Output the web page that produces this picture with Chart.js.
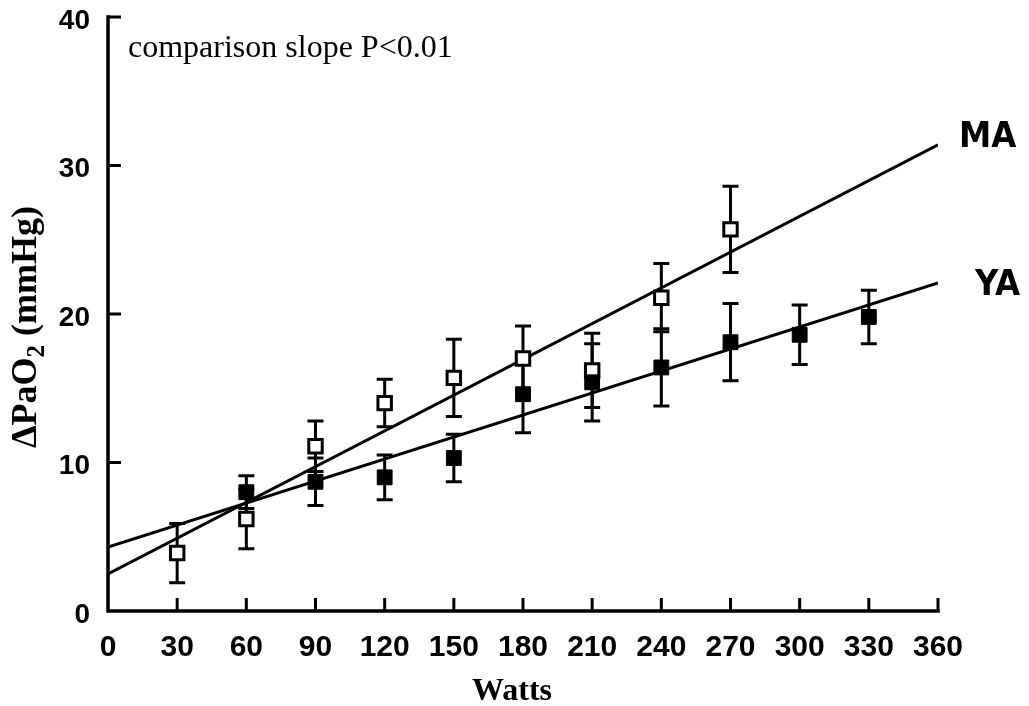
<!DOCTYPE html>
<html>
<head>
<meta charset="utf-8">
<script src="https://cdn.jsdelivr.net/npm/chart.js@4/dist/chart.umd.min.js"></script>
<style>
html,body{margin:0;padding:0;background:#fff;}
canvas{display:block;}
</style>
</head>
<body>
<canvas id="c" width="1029" height="706"></canvas>
<script>
// ---- data ----
const xTicks = [0, 30, 60, 90, 120, 150, 180, 210, 240, 270, 300, 330, 360];
const yTicks = [0, 10, 20, 30, 40];

const maWatts = [30, 60, 90, 120, 150, 180, 210, 240, 270];
const maMean  = [3.9, 6.2, 11.1, 14.0, 15.7, 17.0, 16.2, 21.1, 25.7];
const maErr   = [2.0, 2.0, 1.7, 1.6, 2.6, 2.2, 2.5, 2.3, 2.9];

const yaWatts = [60, 90, 120, 150, 180, 210, 240, 270, 300, 330];
const yaMean  = [8.0, 8.7, 9.0, 10.3, 14.6, 15.4, 16.4, 18.1, 18.6, 19.8];
const yaErr   = [1.1, 1.6, 1.5, 1.6, 2.6, 2.6, 2.6, 2.6, 2.0, 1.8];

const maFitX = [0, 360];
const maFitY = [2.5, 31.4];
const yaFitX = [0, 360];
const yaFitY = [4.3, 22.1];

const seriesNames = ['MA', 'YA'];
const noteText = 'comparison slope P<0.01';
const xTitle = 'Watts';
const yTitleMain = 'ΔPaO';
const yTitleSub = '2';
const yTitleRest = ' (mmHg)';

// ---- helpers ----
const pts = (xs, ys) => xs.map((v, i) => ({ x: v, y: ys[i] }));
const SERIF = '"Liberation Serif", "Times New Roman", Times, serif';
const SANS = '"Liberation Sans", Arial, Helvetica, sans-serif';
const NARROW = '"Liberation Sans Narrow", "Arial Narrow", "DejaVu Sans Condensed", sans-serif';

const paperPlugin = {
  id: 'paper',
  beforeDatasetsDraw(chart) {
    const { ctx, scales: { x, y } } = chart;
    ctx.save();
    ctx.strokeStyle = '#000';
    ctx.lineWidth = 3;
    ctx.lineCap = 'butt';
    const bars = (xs, ms, es) => {
      xs.forEach((w, i) => {
        const px = x.getPixelForValue(w);
        const top = y.getPixelForValue(ms[i] + es[i]);
        const bot = y.getPixelForValue(ms[i] - es[i]);
        ctx.beginPath();
        ctx.moveTo(px, top); ctx.lineTo(px, bot);
        ctx.moveTo(px - 8, top); ctx.lineTo(px + 8, top);
        ctx.moveTo(px - 8, bot); ctx.lineTo(px + 8, bot);
        ctx.stroke();
      });
    };
    bars(maWatts, maMean, maErr);
    bars(yaWatts, yaMean, yaErr);
    ctx.restore();
  },
  afterDraw(chart) {
    const { ctx, scales: { x, y }, chartArea: a } = chart;
    ctx.save();
    ctx.strokeStyle = '#000';
    ctx.fillStyle = '#000';
    // axes
    ctx.lineWidth = 3.5;
    ctx.lineCap = 'square';
    ctx.beginPath();
    ctx.moveTo(a.left, a.top);
    ctx.lineTo(a.left, a.bottom);
    ctx.lineTo(a.right, a.bottom);
    ctx.stroke();
    // inward ticks
    ctx.lineWidth = 3;
    ctx.lineCap = 'butt';
    ctx.beginPath();
    yTicks.forEach(v => {
      if (v === 0) return;
      const py = y.getPixelForValue(v);
      ctx.moveTo(a.left, py); ctx.lineTo(a.left + 13, py);
    });
    xTicks.forEach(v => {
      if (v === 0) return;
      const px = x.getPixelForValue(v);
      ctx.moveTo(px, a.bottom); ctx.lineTo(px, a.bottom - 13);
    });
    ctx.stroke();

    // note text
    ctx.textBaseline = 'alphabetic';
    ctx.textAlign = 'left';
    ctx.font = '32px ' + SERIF;
    ctx.fillText(noteText, 128, 57);

    // series labels
    ctx.font = 'bold 36px ' + NARROW;
    ctx.fillText(seriesNames[0], 959, 147);
    ctx.fillText(seriesNames[1], 975, 295);

    // x title
    ctx.textAlign = 'center';
    ctx.font = 'bold 32px ' + SERIF;
    ctx.fillText(xTitle, 512, 700);

    // y title (rotated, with subscript)
    ctx.textAlign = 'left';
    ctx.translate(36, 327);
    ctx.rotate(-Math.PI / 2);
    const fMain = 'bold 36px ' + SERIF;
    const fSub = 'bold 25px ' + SERIF;
    ctx.font = fMain;
    const w1 = ctx.measureText(yTitleMain).width;
    const w3 = ctx.measureText(yTitleRest).width;
    ctx.font = fSub;
    const w2 = ctx.measureText(yTitleSub).width;
    let sx = -(w1 + w2 + w3) / 2;
    ctx.font = fMain;
    ctx.fillText(yTitleMain, sx, 0);
    sx += w1;
    ctx.font = fSub;
    ctx.fillText(yTitleSub, sx, 8);
    sx += w2;
    ctx.font = fMain;
    ctx.fillText(yTitleRest, sx, 0);
    ctx.restore();
  }
};

new Chart(document.getElementById('c'), {
  type: 'scatter',
  data: {
    datasets: [
      {
        label: 'YA',
        data: pts(yaWatts, yaMean),
        pointStyle: 'rect',
        pointRadius: 10.5,
        backgroundColor: '#000',
        borderColor: '#000',
        borderWidth: 1,
        showLine: false
      },
      {
        label: 'MA',
        data: pts(maWatts, maMean),
        pointStyle: 'rect',
        pointRadius: 9.5,
        backgroundColor: '#fff',
        borderColor: '#000',
        borderWidth: 3,
        showLine: false
      },
      {
        label: 'MA fit',
        data: pts(maFitX, maFitY),
        showLine: true,
        pointRadius: 0,
        borderColor: '#000',
        borderWidth: 3,
        fill: false
      },
      {
        label: 'YA fit',
        data: pts(yaFitX, yaFitY),
        showLine: true,
        pointRadius: 0,
        borderColor: '#000',
        borderWidth: 3,
        fill: false
      }
    ]
  },
  options: {
    responsive: false,
    animation: false,
    devicePixelRatio: 1,
    layout: { padding: { left: 0, right: 91, top: 17, bottom: 0 } },
    plugins: {
      legend: { display: false },
      tooltip: { enabled: false },
      title: { display: false }
    },
    scales: {
      x: {
        type: 'linear',
        min: 0,
        max: 360,
        afterBuildTicks: s => { s.ticks = xTicks.map(v => ({ value: v })); },
        afterFit: s => { s.height = 95; s.paddingLeft = 0; s.paddingRight = 0; },
        grid: { display: false, drawTicks: false },
        border: { display: false },
        ticks: {
          color: '#000',
          padding: 19,
          maxRotation: 0,
          autoSkip: false,
          font: { family: SANS, size: 30, weight: 'bold' }
        }
      },
      y: {
        type: 'linear',
        min: 0,
        max: 40,
        afterBuildTicks: s => { s.ticks = yTicks.map(v => ({ value: v })); },
        afterFit: s => { s.width = 108; s.paddingTop = 0; s.paddingBottom = 0; },
        grid: { display: false, drawTicks: false },
        border: { display: false },
        ticks: {
          color: '#000',
          padding: 18,
          labelOffset: 4,
          font: { family: SANS, size: 28, weight: 'bold' }
        }
      }
    }
  },
  plugins: [paperPlugin]
});
</script>
</body>
</html>
